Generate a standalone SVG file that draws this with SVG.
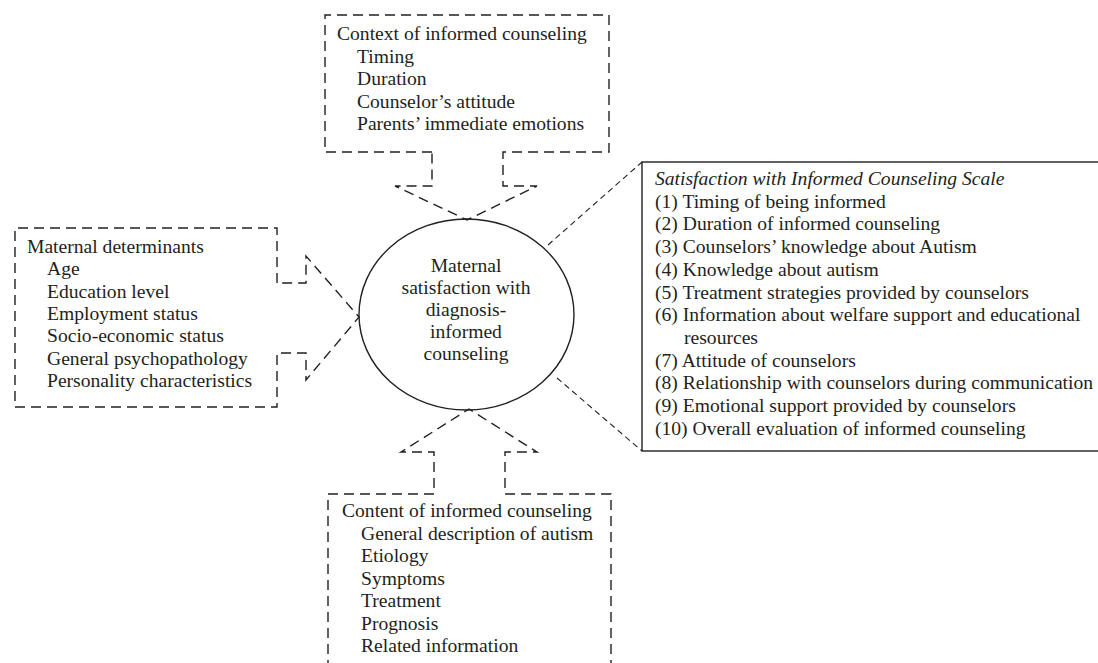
<svg xmlns="http://www.w3.org/2000/svg" width="1098" height="663" viewBox="0 0 1098 663">
<style>
text{font-family:"Liberation Serif","Times New Roman",serif;font-size:19.6px;fill:#231f20}
.it{font-style:italic}
.mid{text-anchor:middle}
.dbox{fill:none;stroke:#231f20;stroke-width:1.4;stroke-dasharray:10 6}
.fine{fill:none;stroke:#231f20;stroke-width:1.1;stroke-dasharray:6 4}
.solid{fill:none;stroke:#231f20;stroke-width:1.4}
</style>
<rect width="1098" height="663" fill="#fff"/>
<g id="connectors">
<line class="fine" x1="548" y1="245" x2="642" y2="162"/>
<line class="fine" x1="557" y1="378" x2="642" y2="451"/>
</g>
<g id="context">
<path class="dbox" d="M432,152 L325,152 L325,15 L609,15 L609,152 L503,152 L503,186 L537,186 L467,220 L395,186 L432,186 Z"/>
<text x="337" y="40">Context of informed counseling</text>
<text x="357" y="62.5">Timing</text>
<text x="357" y="85">Duration</text>
<text x="357" y="107.5">Counselor’s attitude</text>
<text x="357" y="130">Parents’ immediate emotions</text>
</g>
<g id="maternal">
<path class="dbox" d="M277,283 L277,228 L15,228 L15,407 L277,407 L277,353 L306,353 L306,380 L359,317 L306,256 L306,283 Z"/>
<text x="27" y="253">Maternal determinants</text>
<text x="47" y="275">Age</text>
<text x="47" y="297.5">Education level</text>
<text x="47" y="320">Employment status</text>
<text x="47" y="342">Socio-economic status</text>
<text x="47" y="364.5">General psychopathology</text>
<text x="47" y="387">Personality characteristics</text>
</g>
<g id="content">
<path class="dbox" d="M328,670 L328,494 L434,494 L434,452 L401,452 L469,409 L537,452 L505,452 L505,494 L611,494 L611,670"/>
<text x="342" y="517">Content of informed counseling</text>
<text x="361" y="539.5">General description of autism</text>
<text x="361" y="562">Etiology</text>
<text x="361" y="584.5">Symptoms</text>
<text x="361" y="607">Treatment</text>
<text x="361" y="629.5">Prognosis</text>
<text x="361" y="652">Related information</text>
</g>
<g id="center">
<ellipse class="solid" cx="466.5" cy="314.5" rx="107.5" ry="95.5"/>
<text class="mid" x="466" y="272">Maternal</text>
<text class="mid" x="466" y="294">satisfaction with</text>
<text class="mid" x="466" y="316">diagnosis-</text>
<text class="mid" x="466" y="338">informed</text>
<text class="mid" x="466" y="360">counseling</text>
</g>
<g id="scale">
<rect class="solid" x="642" y="162" width="470" height="289"/>
<text class="it" x="655" y="185">Satisfaction with Informed Counseling Scale</text>
<text x="655" y="207.7">(1) Timing of being informed</text>
<text x="655" y="230.4">(2) Duration of informed counseling</text>
<text x="655" y="253.1">(3) Counselors’ knowledge about Autism</text>
<text x="655" y="275.8">(4) Knowledge about autism</text>
<text x="655" y="298.5">(5) Treatment strategies provided by counselors</text>
<text x="655" y="321.2">(6) Information about welfare support and educational</text>
<text x="684" y="343.9">resources</text>
<text x="655" y="366.6">(7) Attitude of counselors</text>
<text x="655" y="389.3">(8) Relationship with counselors during communication</text>
<text x="655" y="412">(9) Emotional support provided by counselors</text>
<text x="655" y="434.7">(10) Overall evaluation of informed counseling</text>
</g>
</svg>
